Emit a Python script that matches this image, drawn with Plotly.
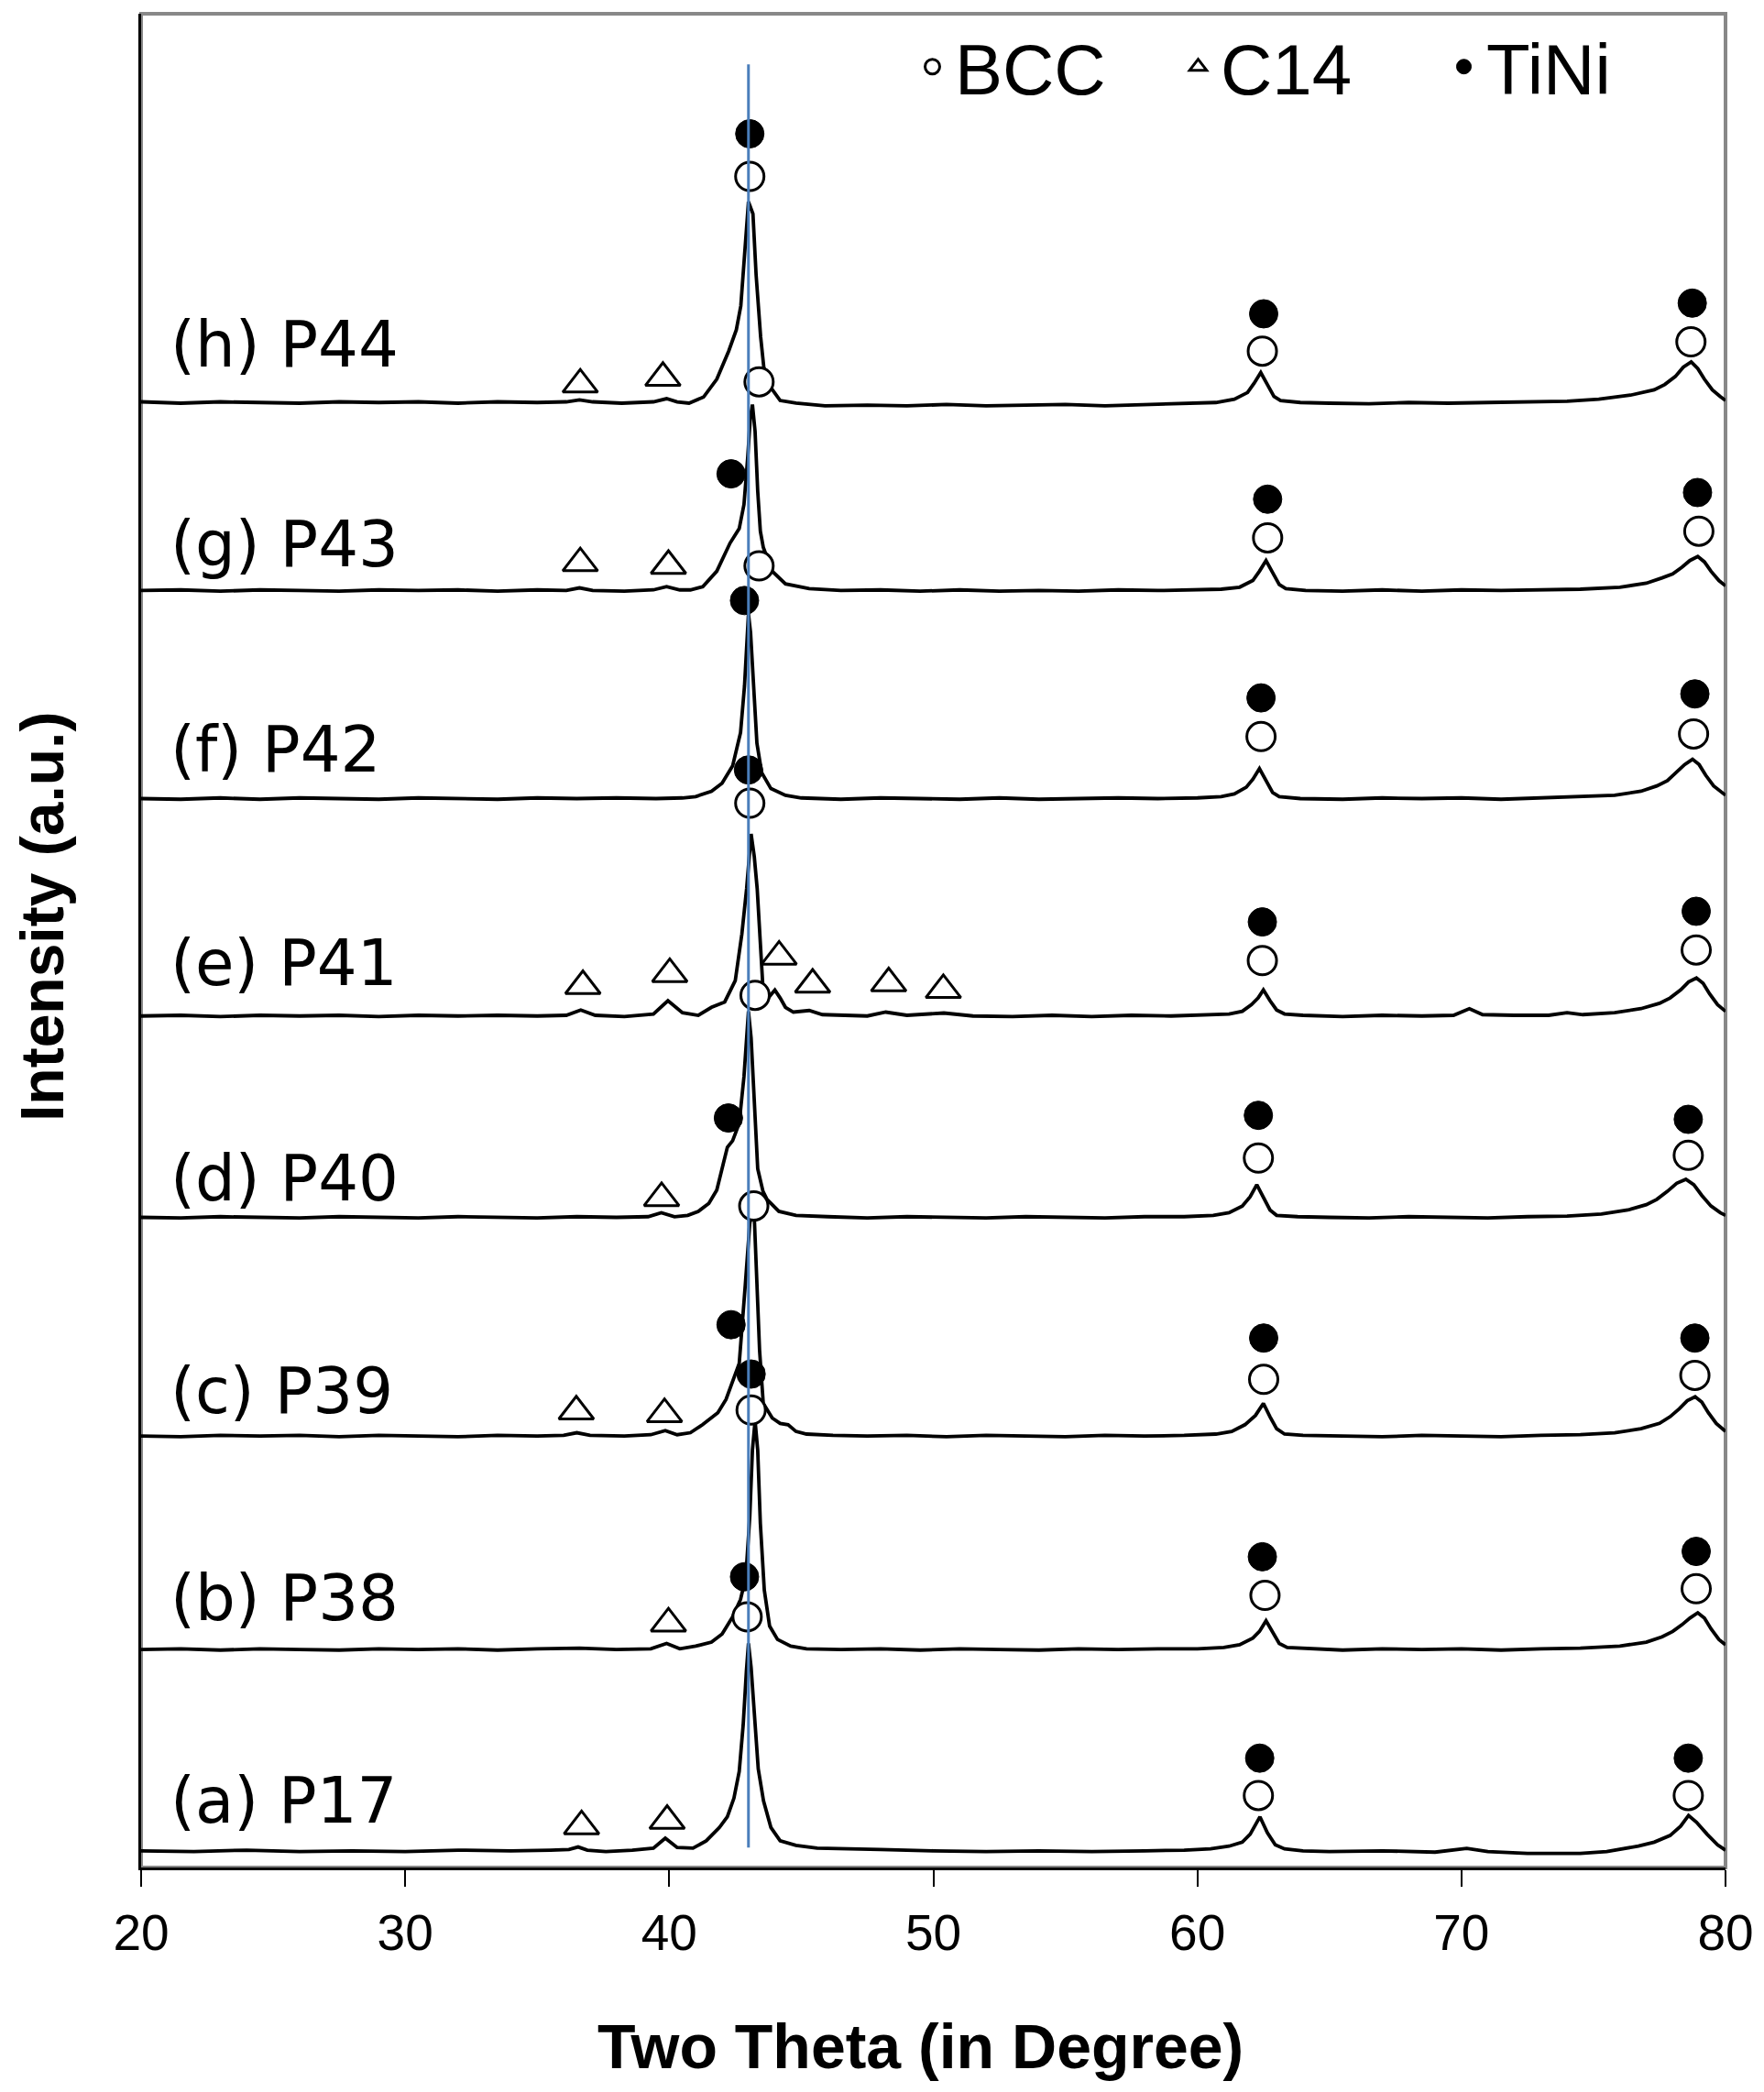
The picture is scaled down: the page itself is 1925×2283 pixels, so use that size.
import plotly.graph_objects as go

# ---------------- data (2-theta in degrees, intensity in a.u. above each pattern's baseline) -------------
pts_a = [(20,0.5),(22,0),(24,1),(26,0),(28,0.5),(30,0),(32,1),(34,0.5),(35.5,1),(36.2,1.5),(36.55,3.4),(36.9,1),(37.6,0),(38.6,1),(39.4,2.5),(39.85,10),(40.3,3),(40.9,2.5),(41.4,8),(41.9,18),(42.2,26),(42.45,40),(42.65,60),(42.8,95),(42.92,135),(43.0,156),(43.1,138),(43.22,100),(43.37,62),(43.57,38),(43.85,18),(44.2,8),(44.8,4.6),(45.6,2.5),(46.4,2.3),(48,1.5),(50,0.5),(52,0),(54,0.5),(56,0),(58,0.5),(59.5,1),(60.5,2),(61.2,4),(61.7,7),(62.0,13),(62.37,26),(62.65,14),(62.95,5),(63.3,2),(64.0,0.5),(65,0),(67,0.5),(69,-0.5),(70.2,2.3),(71,0),(72.5,-1.5),(74.5,-1.5),(75.5,0),(76.7,4),(77.3,7),(77.9,12),(78.3,19),(78.6,27),(78.9,22),(79.3,13),(79.7,5),(80,1)]
pts_b = [(20,0.5),(21.5,1),(23,0),(24.5,1),(26,0.5),(27.5,0),(29,1),(30.5,0.5),(32,1),(33.5,0),(35,1),(36.6,1.5),(38,0.5),(39.3,1),(39.9,5),(40.4,1),(41.0,3),(41.6,6),(42.0,12),(42.4,25),(42.7,38),(42.9,55),(43.05,100),(43.15,150),(43.25,172),(43.35,150),(43.45,95),(43.6,45),(43.8,18),(44.1,8),(44.6,3),(45.2,1),(46.5,0.5),(48,1),(49.5,0),(51,1),(52.5,0.5),(54,0),(55.5,1),(57,0.5),(58.5,1),(60,1),(61,2),(61.6,4),(62.1,9),(62.35,14),(62.6,22),(62.85,13),(63.1,5),(63.4,2),(64.2,1),(65.5,0),(67,1),(68.5,0.5),(70,1),(71.5,0),(73,1),(74.5,1.5),(76,3),(77,6),(77.6,10),(78.0,14),(78.35,19),(78.65,24),(78.95,28),(79.2,24),(79.45,16),(79.75,8),(80,4)]
pts_c = [(20,0.5),(21.5,0),(23,1),(24.5,0.5),(26,1),(27.5,0),(29,1),(30.5,0.5),(32,0),(33.5,1),(35,0.5),(36.0,1),(36.5,3),(37.0,1),(38.3,0.5),(39.3,1.5),(39.85,4.6),(40.3,1.5),(40.8,3),(41.26,9),(41.84,18),(42.15,28),(42.42,43),(42.65,55),(42.88,114),(43.05,160),(43.2,175),(43.3,130),(43.42,65),(43.56,25),(43.9,14),(44.2,10),(44.5,9),(44.8,4),(45.2,2),(46.2,1),(47.5,0.5),(49,1),(50.5,0),(52,1),(53.5,0.5),(55,0),(56.5,1),(58,0.5),(59.5,1),(60.7,2),(61.3,4),(61.8,9),(62.2,16),(62.5,25),(62.75,15),(63.0,6),(63.3,2),(64.0,1),(65.5,0.5),(67,0),(68.5,1),(70,0.5),(71.5,0),(73,1),(74.5,1.5),(75.8,3),(76.8,6),(77.5,10),(77.9,15),(78.25,21),(78.55,27),(78.85,30),(79.1,26),(79.35,18),(79.65,10),(80,4)]
pts_d = [(20,0.5),(21.5,0),(23,1),(24.5,0.5),(26,0),(27.5,1),(29,0.5),(30.5,0),(32,1),(33.5,0.5),(35,0),(36.5,1),(38,0.5),(39.2,1),(39.7,4),(40.2,1),(40.7,2),(41.1,5),(41.5,11),(41.8,21),(42.05,40),(42.2,53),(42.4,58),(42.65,71),(42.83,106),(42.93,140),(43.0,155),(43.1,135),(43.2,90),(43.35,37),(43.55,20),(43.7,14),(44.15,5),(44.8,2),(46,1),(47.5,0),(49,1),(50.5,0.5),(52,0),(53.5,1),(55,0.5),(56.5,0),(58,1),(59.5,1),(60.6,2),(61.2,4),(61.7,9),(62.0,16),(62.25,25),(62.5,15),(62.75,6),(63.0,2),(63.8,1),(65,0.5),(66.5,0),(68,1),(69.5,0.5),(71,0),(72.5,1),(74,1.5),(75.3,3),(76.3,6),(77.0,10),(77.4,14),(77.8,20),(78.15,26),(78.5,29),(78.8,25),(79.1,17),(79.45,9),(79.8,4),(80,2)]
pts_e = [(20,0.5),(21.5,1),(23,0),(24.5,1),(26,0.5),(27.5,1),(29,0),(30.5,1),(32,0.5),(33.5,1),(35,0.5),(36.1,1),(36.65,5),(37.2,1),(38.3,0),(39.4,2),(39.95,12),(40.5,3),(41.1,1),(41.6,7),(42.1,11),(42.5,27),(42.75,62),(42.93,96),(43.1,137),(43.22,120),(43.33,96),(43.45,50),(43.55,21),(43.75,14),(44.0,20),(44.2,14),(44.4,7),(44.7,3.4),(45.3,4.6),(45.8,1.5),(46.5,1),(47.5,0.5),(48.2,3.4),(49,1),(50.4,2.7),(51.5,0.5),(53,0),(54.5,1),(56,0),(57.5,1),(59,0.5),(60.3,1),(61.2,2),(61.7,4),(62.05,9),(62.3,14),(62.5,20),(62.75,12),(63.0,5),(63.3,2),(64,1),(65.5,0),(67,1),(68.5,0.5),(69.7,1),(70.3,6),(70.8,1.5),(72,1),(73.3,1),(74,3),(74.6,1.5),(75.8,3),(76.8,6),(77.5,10),(77.9,14),(78.3,20),(78.6,26),(78.9,29),(79.15,25),(79.4,17),(79.7,9),(80,4)]
pts_f = [(20,0.5),(21.5,0),(23,1),(24.5,0),(26,1),(27.5,0.5),(29,0),(30.5,1),(32,0.5),(33.5,0),(35,1),(36.5,0.5),(38,1),(39.5,0.5),(40.5,1),(41.0,2),(41.6,6),(42.0,12),(42.4,25),(42.7,50),(42.85,85),(42.95,125),(43.0,139),(43.08,125),(43.18,85),(43.32,42),(43.5,20),(43.85,8),(44.4,3),(45.0,1),(46.5,0),(48,1),(49.5,0.5),(51,0),(52.5,1),(54,0),(55.5,0.5),(57,1),(58.5,0.5),(60,1),(60.9,2),(61.4,4),(61.85,9),(62.1,15),(62.35,23),(62.6,14),(62.85,5),(63.1,2),(63.9,0.5),(65.5,0),(67,1),(68.5,0.5),(70,1),(71.5,0),(73,1),(74.5,1.5),(75.8,3),(76.8,6),(77.4,10),(77.8,14),(78.15,20),(78.45,26),(78.75,30),(79.0,26),(79.25,18),(79.55,10),(80,3)]
pts_g = [(20,0.5),(21.5,1),(23,0),(24.5,1),(26,0.5),(27.5,0),(29,1),(30.5,0.5),(32,1),(33.5,0),(35,1),(36.1,0.5),(36.6,2.5),(37.1,0.5),(38.3,0),(39.4,1),(39.9,3.5),(40.4,1),(40.8,1),(41.27,3.4),(41.8,15),(42.3,36),(42.65,47),(42.83,65),(42.97,100),(43.07,130),(43.15,140),(43.25,120),(43.35,75),(43.45,45),(43.56,33),(43.9,15),(44.4,5.5),(45.3,2),(46.5,0.5),(48,1),(49.5,0),(51,1),(52.5,0),(54,0.5),(55.5,0),(57,1),(58.5,0.5),(60,1),(60.9,1.5),(61.6,3),(62.1,8),(62.35,15),(62.6,23),(62.85,14),(63.1,5),(63.35,2),(64.1,0.5),(65.5,0),(67,1),(68.5,0),(70,1),(71.5,0.5),(73,1),(74.5,1.5),(76,3),(77,6),(77.6,10),(78.0,13),(78.35,18),(78.65,23),(78.95,26),(79.2,22),(79.45,15),(79.75,8),(80,4)]
pts_h = [(20,1),(21.5,0),(23,1),(24.5,0.5),(26,0),(27.5,1),(29,0.5),(30.5,1),(32,0),(33.5,1),(35,0.5),(36.1,1),(36.6,2.5),(37.1,1),(38.2,0),(39.4,1),(39.9,3.4),(40.3,1),(40.75,0),(41.3,4.6),(41.8,18),(42.25,39),(42.54,55),(42.71,73),(42.83,107),(42.94,142),(43.0,151),(43.17,142),(43.29,96),(43.46,50),(43.58,27),(43.87,11),(44.2,2),(44.8,0),(45.9,-2),(47.5,-1.5),(49,-2),(50.5,-1),(52,-2),(53.5,-1.5),(55,-1),(56.5,-2),(58,-1),(59.5,-0.5),(60.7,0.5),(61.4,3),(61.9,8),(62.15,15),(62.4,23),(62.65,14),(62.9,5),(63.15,2),(63.9,0.5),(65,0),(66.5,-0.5),(68,0.5),(69.5,0),(71,0.5),(72.5,1),(74,1.5),(75.2,3),(76.4,6),(77.3,10),(77.7,14),(78.1,20),(78.4,27),(78.7,31),(78.95,26),(79.2,18),(79.5,10),(79.8,5),(80,2)]

patterns = [pts_a, pts_b, pts_c, pts_d, pts_e, pts_f, pts_g, pts_h]
offsets = [12, 163, 323, 487, 638, 801, 957, 1098]
labels = ["(a) P17", "(b) P38", "(c) P39", "(d) P40", "(e) P41", "(f) P42", "(g) P43", "(h) P44"]
label_y = [50, 202, 357, 517, 678, 838, 992, 1142]

bcc_x = [43.05, 43.40, 62.46, 78.69, 43.40, 62.66, 78.99, 43.05, 62.41, 78.79, 43.25, 62.46, 78.89,
         43.20, 62.31, 78.59, 43.10, 62.51, 78.84, 42.95, 62.56, 78.89, 62.31, 78.59]
bcc_y = [1268, 1114, 1137, 1144, 976, 997, 1002, 798, 848, 850, 654, 680, 688,
         496, 532, 534, 343, 366, 369, 188, 204, 209, 54, 54]
c14_x = [36.63, 39.76, 36.63, 39.97, 36.73, 40.02, 44.16, 45.43, 48.31, 50.38, 39.71, 36.48, 39.82, 39.97, 36.68, 39.92]
c14_y = [1112, 1117, 978, 976, 661, 670, 683, 662, 663, 658, 502, 342, 340, 183, 31, 35]
tini_x = [43.05, 62.51, 78.74, 42.34, 62.66, 78.94, 42.85, 43.00, 62.41, 78.84, 62.46, 78.89,
          42.24, 62.31, 78.59, 42.34, 43.10, 62.51, 78.84, 42.85, 62.46, 78.89, 62.36, 78.59]
tini_y = [1300, 1165, 1173, 1045, 1026, 1031, 950, 823, 877, 880, 709, 717,
          562, 564, 561, 407, 370, 397, 397, 218, 233, 237, 82, 82]

ref_line = (43.0, 15, 1352)      # 2theta of reference line, y-extent (a.u.)
x_ticks = [20, 30, 40, 50, 60, 70, 80]

# ---------------- layout geometry (target page pixels) -------------
W, H = 1925, 2283
PL, PT, PR, PB = 154, 15, 1883, 2038   # plot area on the page
PW, PH = PR - PL, PB - PT
ML, MT = PL, PT
MR, MB = W - ML - PW, H - MT - PH


def px(X):
    return (X - PL) / PW


def py(Y):
    return (PB - Y) / PH


fig = go.Figure()
for pts, off in zip(patterns, offsets):
    xs = [p[0] for p in pts]
    ys = [p[1] + off for p in pts]
    fig.add_trace(go.Scatter(x=xs, y=ys, mode="lines", line=dict(color="black", width=3.8),
                             showlegend=False, hoverinfo="skip"))

fig.add_trace(go.Scatter(x=bcc_x, y=bcc_y, mode="markers", name="BCC",
                         marker=dict(symbol="circle", size=31, color="white", line=dict(color="black", width=3))))
fig.add_trace(go.Scatter(x=c14_x, y=c14_y, mode="markers", name="C14",
                         marker=dict(symbol="triangle-up", size=33, color="white", line=dict(color="black", width=3))))
fig.add_trace(go.Scatter(x=tini_x, y=tini_y, mode="markers", name="TiNi",
                         marker=dict(symbol="circle", size=31, color="black", line=dict(color="black", width=1))))

shapes = [
    dict(type="rect", xref="paper", yref="paper", x0=0, x1=1, y0=0, y1=1,
         line=dict(color="#888888", width=4), layer="below"),
    dict(type="line", xref="x", yref="y", x0=ref_line[0], x1=ref_line[0], y0=ref_line[1], y1=ref_line[2],
         line=dict(color="#4a7ebb", width=3), layer="above"),
]

annotations = []
for lab, ly in zip(labels, label_y):
    annotations.append(dict(text=lab, x=px(184), xref="paper", y=ly, yref="y",
                            xanchor="left", yanchor="middle", showarrow=False,
                            font=dict(family="DejaVu Sans", size=69, color="black")))
annotations.append(dict(text="<b>Two Theta (in Degree)</b>", x=px(1004), xref="paper",
                        y=py(2233), yref="paper", xanchor="center", yanchor="middle",
                        showarrow=False, font=dict(family="Liberation Sans, Arial", size=68, color="black")))
annotations.append(dict(text="<b>Intensity (a.u.)</b>", x=px(46), xref="paper",
                        y=py(1001), yref="paper", xanchor="center", yanchor="middle",
                        textangle=-90, showarrow=False,
                        font=dict(family="Liberation Sans, Arial", size=66, color="black")))

fig.update_layout(
    width=W, height=H, margin=dict(l=ML, r=MR, t=MT, b=MB, autoexpand=False),
    paper_bgcolor="white", plot_bgcolor="white",
    shapes=shapes, annotations=annotations,
    legend=dict(orientation="h", x=px(993), xanchor="left", y=py(73), yanchor="middle",
                font=dict(family="Liberation Sans, Arial", size=78, color="black"),
                bgcolor="rgba(0,0,0,0)", entrywidth=236, itemwidth=39, itemsizing="trace"),
    xaxis=dict(range=[20, 80], tickvals=x_ticks, ticks="outside", ticklen=18, tickwidth=2, tickcolor="black",
               showline=True, linecolor="black", linewidth=3, showgrid=False, zeroline=False,
               tickfont=dict(family="Liberation Sans, Arial", size=55, color="black"), ticklabelstandoff=3),
    yaxis=dict(range=[0, 1390], showticklabels=False, ticks="", showline=True, linecolor="black",
               linewidth=3, showgrid=False, zeroline=False),
)

fig.write_html("out.html", config={"displayModeBar": False},
               post_script="document.body.style.margin='0px';")
